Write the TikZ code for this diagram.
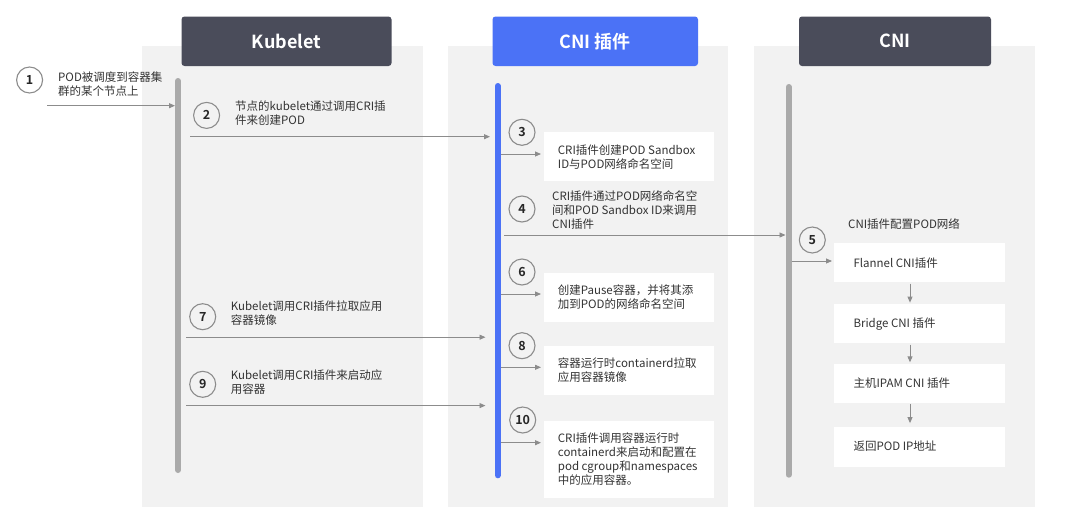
\documentclass[tikz,border=0pt]{standalone}
\usepackage{fontspec}
\setmainfont{Noto Sans CJK SC}[BoldFont={Noto Sans CJK SC Bold}]
\usetikzlibrary{arrows.meta}
\definecolor{colbg}{HTML}{F2F2F2}
\definecolor{hdark}{HTML}{4A4C5A}
\definecolor{hblue}{HTML}{4B72F6}
\definecolor{bargray}{HTML}{AAAAAA}
\definecolor{arrgray}{HTML}{8C8C8C}
\definecolor{txt}{HTML}{333333}
\tikzset{
  hdr/.style={rounded corners=3pt, minimum height=49.5pt, inner sep=0pt, text=white, font=\fontsize{18}{20}\selectfont\bfseries},
  lane/.style={line width=6pt, line cap=round},
  num/.style={circle, draw=arrgray, line width=1.1pt, minimum size=26pt, inner sep=0pt, text=black!85, font=\fontsize{12.5}{14}\selectfont\bfseries},
  lbl/.style={anchor=west, align=left, inner sep=0pt, text=txt, font=\fontsize{11.5}{14}\selectfont},
  wbox/.style={fill=white, draw=none, inner sep=0pt},
  arr/.style={draw=arrgray, line width=0.9pt, -{Triangle[length=6pt,width=5pt]}},
}
\begin{document}
\begin{tikzpicture}[x=1pt,y=-1pt]
\useasboundingbox (0,0) rectangle (1073,514);
\fill[white] (0,0) rectangle (1073,514);
% column backgrounds
\fill[colbg] (142,46) rectangle (423,507);
\fill[colbg] (448,46) rectangle (728,507);
\fill[colbg] (754,46) rectangle (1035,507);
% headers
\node[hdr, fill=hdark, minimum width=210pt] (hk) at (286.5,41.25) {Kubelet};
\node[hdr, fill=hblue, minimum width=205.5pt] (hp) at (595.25,41.25) {CNI 插件};
\node[hdr, fill=hdark, minimum width=192pt] (hc) at (895,41.25) {CNI};
% lifelines
\coordinate (kt) at (178,81); \coordinate (kb) at (178,470);
\coordinate (pt) at (497.7,86); \coordinate (pb) at (497.7,475.3);
\coordinate (ct) at (788.7,87); \coordinate (cb) at (788.7,474.7);
\draw[lane, bargray] (kt) -- (kb);
\draw[lane, hblue] (pt) -- (pb);
\draw[lane, bargray] (ct) -- (cb);
% white boxes, CNI plugin column
\node[wbox, minimum width=170pt, minimum height=49pt] (b3) at (629,156.5) {};
\node[wbox, minimum width=170pt, minimum height=48.7pt] (b6) at (629,297.3) {};
\node[wbox, minimum width=170pt, minimum height=48.7pt] (b8) at (629,370.3) {};
\node[wbox, minimum width=170pt, minimum height=77pt] (b10) at (629,459.5) {};
% white boxes, CNI column
\node[wbox, minimum width=170.7pt, minimum height=39pt] (fl) at (919.7,262.8) {};
\node[wbox, minimum width=170.7pt, minimum height=39pt] (br) at (919.7,323.8) {};
\node[wbox, minimum width=170.7pt, minimum height=38.7pt] (ip) at (919.7,383.35) {};
\node[wbox, minimum width=170.7pt, minimum height=39.4pt] (rt) at (919.7,447) {};
% step numbers
\node[num] (n1) at (29.6,80) {1};
\node[num] (n2) at (206.6,115.4) {2};
\node[num] (n3) at (522,132.3) {3};
\node[num] (n4) at (522,209) {4};
\node[num] (n5) at (812.3,240) {5};
\node[num] (n6) at (522,272) {6};
\node[num] (n7) at (202.7,316.7) {7};
\node[num] (n8) at (522,345.7) {8};
\node[num] (n9) at (202.7,384.3) {9};
\node[num] (n10) at (522.7,420) {10};
% labels
\node[lbl] (t1) at (58,84) {POD被调度到容器集\\群的某个节点上};
\node[lbl] (t2) at (235,112.8) {节点的kubelet通过调用CRI插\\件来创建POD};
\node[lbl] (t3) at (557.7,156.7) {CRI插件创建POD Sandbox\\ID与POD网络命名空间};
\node[lbl] (t4) at (552,210.3) {CRI插件通过POD网络命名空\\间和POD Sandbox ID来调用\\CNI插件};
\node[lbl] (t5) at (848,224.3) {CNI插件配置POD网络};
\node[lbl] (t6) at (557.7,297.3) {创建Pause容器，并将其添\\加到POD的网络命名空间};
\node[lbl] (t7) at (230.7,313.3) {Kubelet调用CRI插件拉取应用\\容器镜像};
\node[lbl] (t8) at (557.7,370) {容器运行时containerd拉取\\应用容器镜像};
\node[lbl] (t9) at (230.7,382) {Kubelet调用CRI插件来启动应\\用容器};
\node[lbl] (t10) at (557.7,459.2) {CRI插件调用容器运行时\\containerd来启动和配置在\\pod cgroup和namespaces\\中的应用容器。};
\node[lbl] (tf) at (853.3,263.3) {Flannel CNI插件};
\node[lbl] (tb) at (853.3,324) {Bridge CNI 插件};
\node[lbl] (ti) at (853.3,383.3) {主机IPAM CNI 插件};
\node[lbl] (tr) at (853.3,445.7) {返回POD IP地址};
% arrow end points
\coordinate (a1s) at (47,105.7);   \coordinate (a1e) at (175,105.7);
\coordinate (a2s) at (190,136.7);  \coordinate (a2e) at (490,136.7);
\coordinate (a3s) at (501,154);    \coordinate (a3e) at (541,154);
\coordinate (a4s) at (504,235);    \coordinate (a4e) at (785.5,235);
\coordinate (a5s) at (791.7,261);  \coordinate (a5e) at (832,261);
\coordinate (a6s) at (501,294);    \coordinate (a6e) at (541,294);
\coordinate (a7s) at (186,337.2);  \coordinate (a7e) at (485.5,337.2);
\coordinate (a8s) at (501,367.3);  \coordinate (a8e) at (541,367.3);
\coordinate (a9s) at (186,405.6);  \coordinate (a9e) at (485.5,405.6);
\coordinate (a10s) at (501,442.7); \coordinate (a10e) at (541,442.7);
\coordinate (dx) at (910,0);
% arrows
\draw[arr] (a1s) -- (a1e);
\draw[arr] (a2s) -- (a2e);
\draw[arr] (a3s) -- (a3e);
\draw[arr] (a4s) -- (a4e);
\draw[arr] (a5s) -- (a5e);
\draw[arr] (a6s) -- (a6e);
\draw[arr] (a7s) -- (a7e);
\draw[arr] (a8s) -- (a8e);
\draw[arr] (a9s) -- (a9e);
\draw[arr] (a10s) -- (a10e);
\draw[arr, shorten <=1pt, shorten >=1.5pt] (fl.south -| dx) -- (br.north -| dx);
\draw[arr, shorten <=1pt, shorten >=1.5pt] (br.south -| dx) -- (ip.north -| dx);
\draw[arr, shorten <=1pt, shorten >=4pt] (ip.south -| dx) -- (rt.north -| dx);
\end{tikzpicture}
\end{document}
